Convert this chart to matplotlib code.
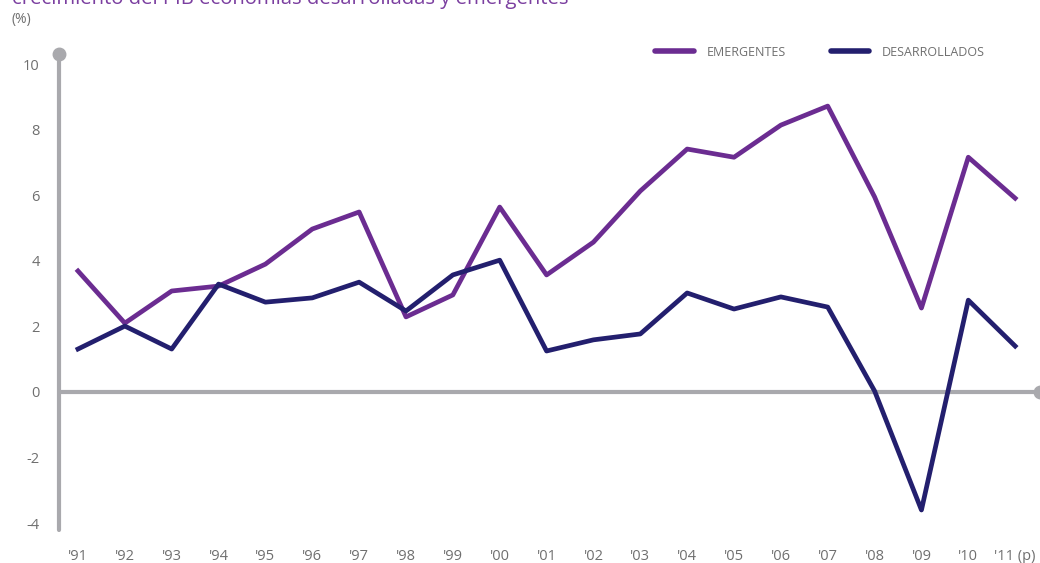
import matplotlib.pyplot as plt
from matplotlib.lines import Line2D

plt.rcParams['font.family'] = ['Open Sans', 'DejaVu Sans']
plt.rcParams['axes.unicode_minus'] = False

years = ["'91", "'92", "'93", "'94", "'95", "'96", "'97", "'98", "'99", "'00",
         "'01", "'02", "'03", "'04", "'05", "'06", "'07", "'08", "'09", "'10", "'11 (p)"]
emergentes = [3.69, 2.10, 3.08, 3.23, 3.90, 4.97, 5.49, 2.29, 2.96, 5.64,
              3.57, 4.57, 6.13, 7.41, 7.16, 8.14, 8.72, 5.95, 2.56, 7.16, 5.91]
desarrollados = [1.31, 2.01, 1.31, 3.29, 2.74, 2.87, 3.35, 2.47, 3.57, 4.02,
                 1.25, 1.59, 1.77, 3.02, 2.53, 2.90, 2.59, 0.03, -3.60, 2.80, 1.40]

purple = '#6b2c91'
navy = '#231f6e'
gray = '#a9a9ad'
txt = '#6f6f6f'

fig = plt.figure(figsize=(10.4, 5.63), dpi=100)
ax = fig.add_axes([59/1040, 33/563, 981/1040, 478/563])

x = list(range(len(years)))
xl, xr = -0.405, 20.53
yb, yt = -4.21, 10.37

# ejes grises
ax.axhline(0, color=gray, lw=3, zorder=1)
ax.plot([xr], [0], 'o', color=gray, ms=9, clip_on=False, zorder=1)
ax.plot([xl, xl], [yb, 10.3], color=gray, lw=3, solid_capstyle='round', clip_on=False, zorder=1)
ax.plot([xl], [10.3], 'o', color=gray, ms=9, clip_on=False, zorder=1)

ax.plot(x, emergentes, color=purple, lw=3.4, solid_joinstyle='round', label='EMERGENTES', zorder=3)
ax.plot(x, desarrollados, color=navy, lw=3.4, solid_joinstyle='round', label='DESARROLLADOS', zorder=3)

ax.set_xlim(xl, xr)
ax.set_ylim(yb, yt)
for s in ax.spines.values():
    s.set_visible(False)
ax.set_xticks(x)
ax.set_xticklabels(years)
ax.set_yticks(range(-4, 11, 2))
ax.tick_params(length=0, colors=txt, labelsize=10.5)
ax.tick_params(axis='x', pad=14)
ax.tick_params(axis='y', pad=14)

handles = [Line2D([], [], color=purple, lw=4, solid_capstyle='round'),
           Line2D([], [], color=navy, lw=4, solid_capstyle='round')]
leg = fig.legend(handles, ['EMERGENTES', 'DESARROLLADOS'], ncol=2, frameon=False,
                 loc='center left', bbox_to_anchor=(655/1040, 1 - 52/563),
                 fontsize=9, handlelength=3.1, handletextpad=1.0, columnspacing=3.6,
                 borderpad=0, borderaxespad=0)
for t in leg.get_texts():
    t.set_color(txt)

fig.text(12/1040, 1 - 19/563, '(%)', fontsize=10, color=txt, va='center')
fig.text(12/1040, 1 - 4/563, 'crecimiento del PIB economías desarrolladas y emergentes',
         fontsize=14.6, color='#7b3fa0', va='baseline')

fig.savefig('out.png', dpi=100)
